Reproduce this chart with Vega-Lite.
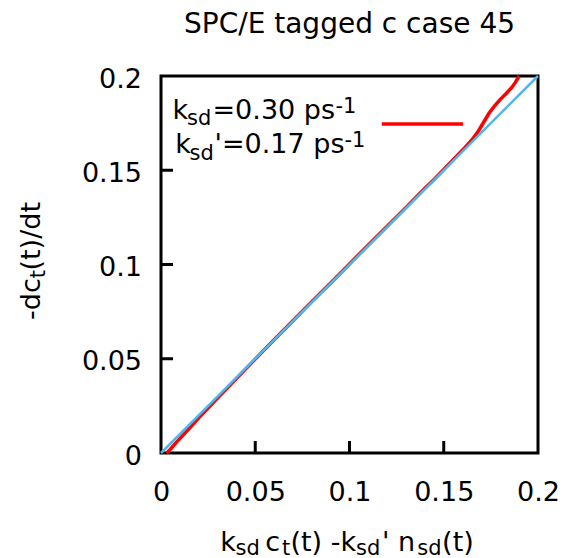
{
  "$schema": "https://vega.github.io/schema/vega-lite/v6.json",
  "width": 377,
  "height": 377,
  "autosize": {"type": "none"},
  "padding": {"left": 161, "top": 76, "right": 27, "bottom": 105},
  "background": "white",
  "title": {"text": "SPC/E tagged c case 45", "font": "DejaVu Sans", "fontSize": 28, "fontWeight": "normal", "color": "black", "anchor": "middle", "frame": "group", "baseline": "alphabetic", "offset": 4},
  "config": {"view": {"stroke": "black", "strokeWidth": 3}, "font": "DejaVu Sans"},
  "datasets": {
    "fit": [
      {"x": 0.003, "y": 0.0}, {"x": 0.005, "y": 0.002}, {"x": 0.008, "y": 0.0055}, {"x": 0.012, "y": 0.0098},
      {"x": 0.016, "y": 0.0142}, {"x": 0.02, "y": 0.0187}, {"x": 0.025, "y": 0.0238}, {"x": 0.03, "y": 0.0291},
      {"x": 0.035, "y": 0.0343}, {"x": 0.04, "y": 0.0395}, {"x": 0.05, "y": 0.0498}, {"x": 0.06, "y": 0.0601},
      {"x": 0.07, "y": 0.0702}, {"x": 0.08, "y": 0.0803}, {"x": 0.09, "y": 0.0902}, {"x": 0.1, "y": 0.1003},
      {"x": 0.11, "y": 0.1104}, {"x": 0.12, "y": 0.1203}, {"x": 0.13, "y": 0.1303}, {"x": 0.14, "y": 0.1404},
      {"x": 0.145, "y": 0.1452}, {"x": 0.15, "y": 0.1504}, {"x": 0.155, "y": 0.1556}, {"x": 0.16, "y": 0.1607},
      {"x": 0.165, "y": 0.1662}, {"x": 0.168, "y": 0.1702}, {"x": 0.171, "y": 0.1752}, {"x": 0.174, "y": 0.1802},
      {"x": 0.177, "y": 0.1842}, {"x": 0.18, "y": 0.1876}, {"x": 0.183, "y": 0.1906}, {"x": 0.186, "y": 0.1938},
      {"x": 0.188, "y": 0.1966}, {"x": 0.19, "y": 0.2}
    ],
    "ref": [{"x": 0, "y": 0}, {"x": 0.2, "y": 0.2}],
    "tk": [{"v": 0.05}, {"v": 0.1}, {"v": 0.15}]
  },
  "layer": [
    {
      "data": {"name": "fit"},
      "mark": {"type": "line", "color": "#ff0000", "strokeWidth": 3.5},
      "encoding": {
        "x": {"field": "x", "type": "quantitative", "scale": {"domain": [0, 0.2], "nice": false, "zero": false},
          "axis": {"title": null, "values": [0, 0.05, 0.1, 0.15, 0.2], "format": "~g", "domain": false, "ticks": false, "grid": false,
            "labelFont": "DejaVu Sans", "labelFontSize": 27, "labelColor": "black", "labelPadding": 26, "labelFlush": false, "labelOverlap": false}},
        "y": {"field": "y", "type": "quantitative", "scale": {"domain": [0, 0.2], "nice": false, "zero": false},
          "axis": {"title": null, "values": [0, 0.05, 0.1, 0.15, 0.2], "format": "~g", "domain": false, "ticks": false, "grid": false,
            "labelFont": "DejaVu Sans", "labelFontSize": 27, "labelColor": "black", "labelPadding": 19.5, "labelOffset": 3, "labelFlush": false, "labelOverlap": false}}
      }
    },
    {
      "data": {"name": "ref"},
      "mark": {"type": "line", "color": "#56b4e9", "strokeWidth": 2.5},
      "encoding": {"x": {"field": "x", "type": "quantitative"}, "y": {"field": "y", "type": "quantitative"}}
    },
    {
      "data": {"name": "tk"},
      "mark": {"type": "tick", "orient": "vertical", "size": 12, "thickness": 3, "yOffset": -6, "color": "black", "opacity": 1},
      "encoding": {"x": {"field": "v", "type": "quantitative"}, "y": {"datum": 0}}
    },
    {
      "data": {"name": "tk"},
      "mark": {"type": "tick", "orient": "horizontal", "size": 12, "thickness": 3, "xOffset": 6, "color": "black", "opacity": 1},
      "encoding": {"y": {"field": "v", "type": "quantitative"}, "x": {"datum": 0}}
    },
    {
      "data": {"values": [{}]},
      "mark": {"type": "rule", "color": "#ff0000", "strokeWidth": 3.5},
      "encoding": {"x": {"datum": 0.1171}, "x2": {"datum": 0.1602}, "y": {"datum": 0.1745}}
    },
    {"data": {"values": [{"s": "k"}]}, "mark": {"type": "text", "align": "left", "baseline": "alphabetic", "font": "DejaVu Sans", "fontSize": 27, "color": "black", "dx": 11.5, "dy": 43.3}, "encoding": {"x": {"datum": 0}, "y": {"datum": 0.2}, "text": {"field": "s"}}},
    {"data": {"values": [{"s": "sd"}]}, "mark": {"type": "text", "align": "left", "baseline": "alphabetic", "font": "DejaVu Sans", "fontSize": 21, "color": "black", "dx": 26, "dy": 49}, "encoding": {"x": {"datum": 0}, "y": {"datum": 0.2}, "text": {"field": "s"}}},
    {"data": {"values": [{"s": "=0.30 ps"}]}, "mark": {"type": "text", "align": "left", "baseline": "alphabetic", "font": "DejaVu Sans", "fontSize": 27, "color": "black", "dx": 51.5, "dy": 43.3}, "encoding": {"x": {"datum": 0}, "y": {"datum": 0.2}, "text": {"field": "s"}}},
    {"data": {"values": [{"s": "-1"}]}, "mark": {"type": "text", "align": "left", "baseline": "alphabetic", "font": "DejaVu Sans", "fontSize": 21, "color": "black", "dx": 174.5, "dy": 37}, "encoding": {"x": {"datum": 0}, "y": {"datum": 0.2}, "text": {"field": "s"}}},
    {"data": {"values": [{"s": "k"}]}, "mark": {"type": "text", "align": "left", "baseline": "alphabetic", "font": "DejaVu Sans", "fontSize": 27, "color": "black", "dx": 14.2, "dy": 77.3}, "encoding": {"x": {"datum": 0}, "y": {"datum": 0.2}, "text": {"field": "s"}}},
    {"data": {"values": [{"s": "sd"}]}, "mark": {"type": "text", "align": "left", "baseline": "alphabetic", "font": "DejaVu Sans", "fontSize": 21, "color": "black", "dx": 28.5, "dy": 84}, "encoding": {"x": {"datum": 0}, "y": {"datum": 0.2}, "text": {"field": "s"}}},
    {"data": {"values": [{"s": "'=0.17 ps"}]}, "mark": {"type": "text", "align": "left", "baseline": "alphabetic", "font": "DejaVu Sans", "fontSize": 27, "color": "black", "dx": 53.5, "dy": 77.3}, "encoding": {"x": {"datum": 0}, "y": {"datum": 0.2}, "text": {"field": "s"}}},
    {"data": {"values": [{"s": "-1"}]}, "mark": {"type": "text", "align": "left", "baseline": "alphabetic", "font": "DejaVu Sans", "fontSize": 21, "color": "black", "dx": 183.5, "dy": 71}, "encoding": {"x": {"datum": 0}, "y": {"datum": 0.2}, "text": {"field": "s"}}},
    {"data": {"values": [{"s": "k"}]}, "mark": {"type": "text", "align": "left", "baseline": "alphabetic", "font": "DejaVu Sans", "fontSize": 27, "color": "black", "dx": 59.2, "dy": 98}, "encoding": {"x": {"datum": 0}, "y": {"datum": 0}, "text": {"field": "s"}}},
    {"data": {"values": [{"s": "sd"}]}, "mark": {"type": "text", "align": "left", "baseline": "alphabetic", "font": "DejaVu Sans", "fontSize": 21, "color": "black", "dx": 74.5, "dy": 102}, "encoding": {"x": {"datum": 0}, "y": {"datum": 0}, "text": {"field": "s"}}},
    {"data": {"values": [{"s": "c"}]}, "mark": {"type": "text", "align": "left", "baseline": "alphabetic", "font": "DejaVu Sans", "fontSize": 27, "color": "black", "dx": 104.2, "dy": 98}, "encoding": {"x": {"datum": 0}, "y": {"datum": 0}, "text": {"field": "s"}}},
    {"data": {"values": [{"s": "t"}]}, "mark": {"type": "text", "align": "left", "baseline": "alphabetic", "font": "DejaVu Sans", "fontSize": 21, "color": "black", "dx": 121, "dy": 102}, "encoding": {"x": {"datum": 0}, "y": {"datum": 0}, "text": {"field": "s"}}},
    {"data": {"values": [{"s": "(t) -k"}]}, "mark": {"type": "text", "align": "left", "baseline": "alphabetic", "font": "DejaVu Sans", "fontSize": 27, "color": "black", "dx": 129.5, "dy": 98}, "encoding": {"x": {"datum": 0}, "y": {"datum": 0}, "text": {"field": "s"}}},
    {"data": {"values": [{"s": "sd"}]}, "mark": {"type": "text", "align": "left", "baseline": "alphabetic", "font": "DejaVu Sans", "fontSize": 21, "color": "black", "dx": 195, "dy": 102}, "encoding": {"x": {"datum": 0}, "y": {"datum": 0}, "text": {"field": "s"}}},
    {"data": {"values": [{"s": "' n"}]}, "mark": {"type": "text", "align": "left", "baseline": "alphabetic", "font": "DejaVu Sans", "fontSize": 27, "color": "black", "dx": 221.1, "dy": 98}, "encoding": {"x": {"datum": 0}, "y": {"datum": 0}, "text": {"field": "s"}}},
    {"data": {"values": [{"s": "sd"}]}, "mark": {"type": "text", "align": "left", "baseline": "alphabetic", "font": "DejaVu Sans", "fontSize": 21, "color": "black", "dx": 256.3, "dy": 102}, "encoding": {"x": {"datum": 0}, "y": {"datum": 0}, "text": {"field": "s"}}},
    {"data": {"values": [{"s": "(t)"}]}, "mark": {"type": "text", "align": "left", "baseline": "alphabetic", "font": "DejaVu Sans", "fontSize": 27, "color": "black", "dx": 281.1, "dy": 98}, "encoding": {"x": {"datum": 0}, "y": {"datum": 0}, "text": {"field": "s"}}},
    {"data": {"values": [{"s": "-dc"}]}, "mark": {"type": "text", "align": "left", "baseline": "alphabetic", "angle": 270, "font": "DejaVu Sans", "fontSize": 27, "color": "black", "dx": 133, "dy": -121.5}, "encoding": {"x": {"datum": 0}, "y": {"datum": 0}, "text": {"field": "s"}}},
    {"data": {"values": [{"s": "t"}]}, "mark": {"type": "text", "align": "left", "baseline": "alphabetic", "angle": 270, "font": "DejaVu Sans", "fontSize": 21, "color": "black", "dx": 174.7, "dy": -116.5}, "encoding": {"x": {"datum": 0}, "y": {"datum": 0}, "text": {"field": "s"}}},
    {"data": {"values": [{"s": "(t)/dt"}]}, "mark": {"type": "text", "align": "left", "baseline": "alphabetic", "angle": 270, "font": "DejaVu Sans", "fontSize": 27, "color": "black", "dx": 182.5, "dy": -121.5}, "encoding": {"x": {"datum": 0}, "y": {"datum": 0}, "text": {"field": "s"}}}
  ]
}
